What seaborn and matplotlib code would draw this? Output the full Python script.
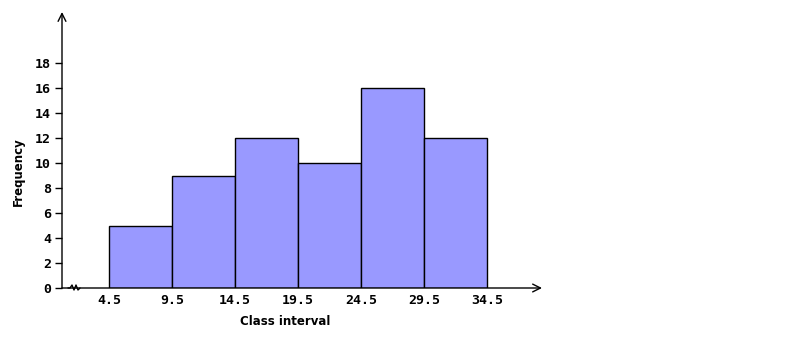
import matplotlib
matplotlib.use("Agg")
import matplotlib.pyplot as plt
import seaborn as sns
import numpy as np

bin_edges = [4.5, 9.5, 14.5, 19.5, 24.5, 29.5, 34.5]
frequencies = [5, 9, 12, 10, 16, 12]
y_ticks = [0, 2, 4, 6, 8, 10, 12, 14, 16, 18]
x_tick_labels = ["4.5", "9.5", "14.5", "19.5", "24.5", "29.5", "34.5"]

sns.set_style("white")
plt.rcParams['font.family'] = ['DejaVu Sans']
plt.rcParams['text.color'] = 'black'
plt.rcParams['axes.labelcolor'] = 'black'
plt.rcParams['xtick.color'] = 'black'
plt.rcParams['ytick.color'] = 'black'

W, H = 786, 344
fig = plt.figure(figsize=(W / 100, H / 100), dpi=100)
x0, x1, yb, yt = 62, 542, 288, 12
ax = fig.add_axes([x0 / W, 1 - yb / H, (x1 - x0) / W, (yb - yt) / H])

mids = [(bin_edges[i] + bin_edges[i + 1]) / 2 for i in range(len(frequencies))]
sns.histplot(x=mids, weights=frequencies, bins=bin_edges, ax=ax,
             color="#9999ff", edgecolor="black", linewidth=1, alpha=1)

px = 5 / 63.0
ax.set_xlim(4.5 - (109 - x0) * px, 4.5 + (x1 - 109) * px)
ax.set_ylim(0, (yb - yt) / 12.5)

tick_font = dict(family="DejaVu Sans Mono", fontweight="bold", fontsize=9.5)
ax.set_yticks(y_ticks)
ax.set_yticklabels([str(v) for v in y_ticks], **tick_font)
ax.set_xticks(bin_edges)
ax.set_xticklabels(x_tick_labels, **tick_font)
ax.tick_params(axis="y", length=5, width=1, pad=3, color="black", left=True)
ax.tick_params(axis="x", length=0, pad=4, bottom=True)

for s in ["top", "right", "left", "bottom"]:
    ax.spines[s].set_visible(False)

# axes with arrows
ax.annotate("", xy=(1, 0), xytext=(0, 0), xycoords="axes fraction",
            arrowprops=dict(arrowstyle="->", color="black", lw=1, mutation_scale=14,
                            shrinkA=0, shrinkB=0), annotation_clip=False)
ax.annotate("", xy=(0, 1), xytext=(0, 0), xycoords="axes fraction",
            arrowprops=dict(arrowstyle="->", color="black", lw=1, mutation_scale=14,
                            shrinkA=0, shrinkB=0), annotation_clip=False)

# axis break zigzag
zx = np.array([68, 70, 72, 74, 76, 78, 80])
zy = np.array([0, 0, 3, -2, 3, -2, 0])
ax.plot((zx - x0) / (x1 - x0), zy / (yb - yt), color="black", lw=1,
        transform=ax.transAxes, clip_on=False)

ax.set_xlabel("Class interval", fontsize=8.5, fontweight="bold")
ax.xaxis.set_label_coords((285 - x0) / (x1 - x0), (yb - 315) / (yb - yt))
ax.set_ylabel("Frequency", fontsize=8.5, fontweight="bold")
ax.yaxis.set_label_coords((25 - x0) / (x1 - x0), (yb - 172) / (yb - yt))

fig.savefig("out.png", dpi=100, facecolor="white")
